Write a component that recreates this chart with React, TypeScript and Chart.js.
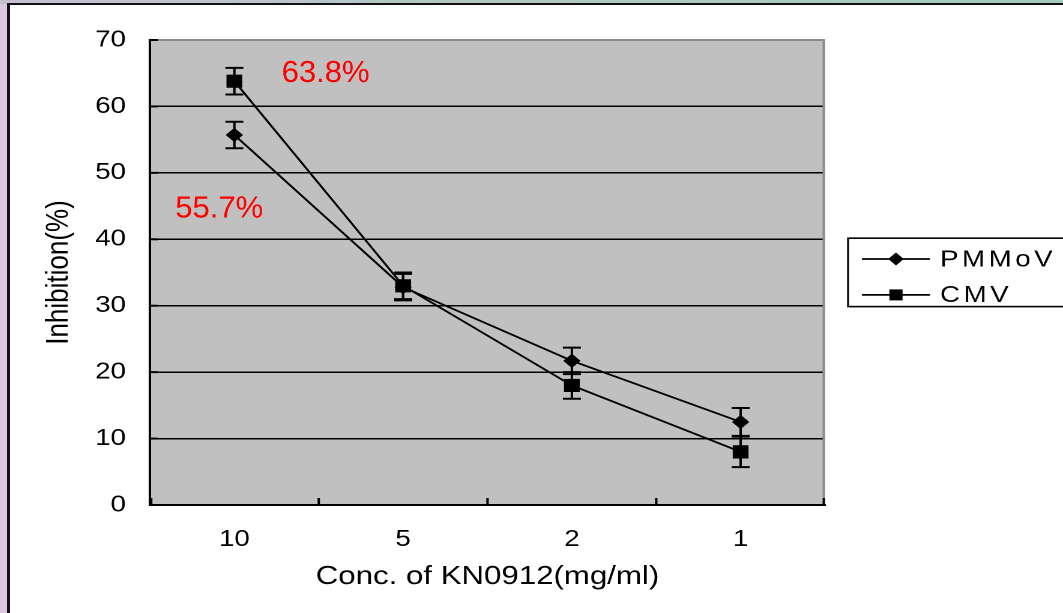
import React, { useEffect, useRef } from 'react';
import { Chart, registerables } from 'chart.js';

Chart.register(...registerables);

// ---------- data ----------
const categories = ['10', '5', '2', '1'];
const seriesLabels = ['PMMoV', 'CMV'];
const pmmovValues = [55.7, 32.8, 21.7, 12.5];
const pmmovErrors = [2.0, 2.0, 2.0, 2.1];
const cmvValues = [63.8, 33.0, 18.0, 8.0];
const cmvErrors = [2.0, 2.0, 2.0, 2.3];
const yMin = 0;
const yMax = 70;
const yStep = 10;
const noteTexts = ['63.8%', '55.7%'];
const noteCats = [0.28, -0.35];
const noteValues = [63.7, 43.3];
const xTitle = 'Conc. of KN0912(mg/ml)';
const yTitle = 'Inhibition(%)';

// ---------- layout ----------
const CSS_W = 1053;
const CSS_H = 608;
const W = 877; // logical width; canvas is stretched horizontally like the source picture
const H = 608;
const SX = CSS_W / W;
const PLOT_LEFT = 140 / SX;
const PLOT_RIGHT = 815 / SX;
const PLOT_TOP = 35;
const PLOT_BOTTOM = 500;
const FONT = '"Liberation Sans", Arial, Helvetica, sans-serif';

function drawDiamond(ctx: CanvasRenderingContext2D, x: number, y: number, r: number) {
  ctx.beginPath();
  ctx.moveTo(x - r, y);
  ctx.lineTo(x, y - r);
  ctx.lineTo(x + r, y);
  ctx.lineTo(x, y + r);
  ctx.closePath();
  ctx.fill();
}

const plotBg = {
  id: 'plotBg',
  beforeDraw(chart: any) {
    const { ctx, chartArea: a } = chart;
    ctx.save();
    ctx.fillStyle = '#c0c0c0';
    ctx.fillRect(a.left, a.top, a.right - a.left, a.bottom - a.top);
    ctx.restore();
  },
};

const frame = {
  id: 'frame',
  beforeDatasetsDraw(chart: any) {
    const { ctx, chartArea: a, scales } = chart;
    const xs = scales.x;
    const ys = scales.y;
    ctx.save();
    ctx.strokeStyle = '#8c8c8c';
    ctx.lineWidth = 2;
    ctx.beginPath();
    ctx.moveTo(a.right - 1, a.top);
    ctx.lineTo(a.right - 1, a.bottom);
    ctx.stroke();
    ctx.strokeStyle = '#000';
    ctx.lineWidth = 2;
    for (let i = 0; i <= categories.length; i++) {
      let px = xs.getPixelForValue(i - 0.5);
      px = Math.min(Math.max(px, a.left + 1), a.right - 1);
      ctx.beginPath();
      ctx.moveTo(px, a.bottom);
      ctx.lineTo(px, a.bottom - 7);
      ctx.stroke();
    }
    for (let v = yMin; v <= yMax; v += yStep) {
      const py = ys.getPixelForValue(v);
      ctx.beginPath();
      ctx.moveTo(a.left, py);
      ctx.lineTo(a.left + 6.7, py);
      ctx.stroke();
    }
    ctx.restore();
  },
};

const errorBars = {
  id: 'errorBars',
  afterDatasetsDraw(chart: any) {
    const { ctx, scales } = chart;
    const xs = scales.x;
    const ys = scales.y;
    const sets = [
      [pmmovValues, pmmovErrors],
      [cmvValues, cmvErrors],
    ];
    ctx.save();
    ctx.strokeStyle = '#000';
    sets.forEach(([vals, errs]) => {
      vals.forEach((v, i) => {
        const px = xs.getPixelForValue(i);
        const top = ys.getPixelForValue(v + errs[i]);
        const bot = ys.getPixelForValue(v - errs[i]);
        ctx.lineWidth = 2;
        ctx.beginPath();
        ctx.moveTo(px, top);
        ctx.lineTo(px, bot);
        ctx.stroke();
        ctx.beginPath();
        ctx.moveTo(px - 7.5, top);
        ctx.lineTo(px + 7.5, top);
        ctx.moveTo(px - 7.5, bot);
        ctx.lineTo(px + 7.5, bot);
        ctx.stroke();
      });
    });
    ctx.restore();
  },
};

const extras = {
  id: 'extras',
  afterDraw(chart: any) {
    const { ctx, chartArea: a, scales } = chart;
    const xs = scales.x;
    const ys = scales.y;
    // red annotations (not stretched)
    ctx.save();
    ctx.fillStyle = '#ff0000';
    ctx.font = `31px ${FONT}`;
    ctx.textAlign = 'left';
    ctx.textBaseline = 'alphabetic';
    noteTexts.forEach((t, i) => {
      const px = xs.getPixelForValue(noteCats[i]);
      const py = ys.getPixelForValue(noteValues[i]);
      ctx.save();
      ctx.translate(px, py);
      ctx.scale(1 / SX, 1);
      ctx.fillText(t, 0, 0);
      ctx.restore();
    });
    ctx.restore();

    // legend
    const mid = (a.top + a.bottom) / 2;
    const boxLeft = a.right + 19.2;
    const boxTop = mid - 34.3;
    const boxH = 68.4;
    ctx.save();
    ctx.strokeStyle = '#000';
    ctx.lineWidth = 1.6;
    ctx.strokeRect(boxLeft, boxTop, 260, boxH);
    const rows = [boxTop + 20.8, boxTop + 56.7];
    const lineX0 = boxLeft + 11.6;
    const lineX1 = boxLeft + 68.2;
    const markX = boxLeft + 39.9;
    const textX = boxLeft + 76.6;
    ctx.font = `23px ${FONT}`;
    (ctx as any).letterSpacing = '3px';
    ctx.textAlign = 'left';
    ctx.textBaseline = 'middle';
    ctx.fillStyle = '#000';
    seriesLabels.forEach((lab, i) => {
      const ry = rows[i];
      ctx.lineWidth = 1.8;
      ctx.beginPath();
      ctx.moveTo(lineX0, ry);
      ctx.lineTo(lineX1, ry);
      ctx.stroke();
      if (i === 0) {
        drawDiamond(ctx, markX, ry, 6.5);
      } else {
        ctx.fillRect(markX - 5.5, ry - 5.5, 11, 11);
      }
      ctx.fillText(lab, textX, ry + 1);
    });
    ctx.restore();
  },
};

export default function App() {
  const ref = useRef<HTMLCanvasElement | null>(null);

  useEffect(() => {
    const canvas = ref.current;
    if (!canvas) return;
    const chart = new Chart(canvas, {
      type: 'line',
      data: {
        labels: categories,
        datasets: [
          {
            label: seriesLabels[0],
            data: pmmovValues,
            borderColor: '#000',
            borderWidth: 1.8,
            backgroundColor: '#000',
            pointStyle: 'rectRot',
            pointRadius: 6.5,
            pointBackgroundColor: '#000',
            pointBorderColor: '#000',
            pointBorderWidth: 1,
            fill: false,
            tension: 0,
          },
          {
            label: seriesLabels[1],
            data: cmvValues,
            borderColor: '#000',
            borderWidth: 1.8,
            backgroundColor: '#000',
            pointStyle: 'rect',
            pointRadius: 8.6,
            pointBackgroundColor: '#000',
            pointBorderColor: '#000',
            pointBorderWidth: 1,
            fill: false,
            tension: 0,
          },
        ],
      },
      options: {
        responsive: false,
        devicePixelRatio: 2,
        animation: false,
        events: [],
        layout: {
          padding: { top: PLOT_TOP, right: W - PLOT_RIGHT, bottom: 0, left: 0 },
        },
        plugins: {
          legend: { display: false },
          tooltip: { enabled: false },
          title: { display: false },
        },
        scales: {
          x: {
            type: 'category',
            offset: true,
            grid: { display: true, drawOnChartArea: false, drawTicks: false, offset: true },
            border: { display: true, color: '#000', width: 2 },
            ticks: {
              color: '#000',
              font: { family: FONT, size: 23 },
              padding: 21,
              maxRotation: 0,
              autoSkip: false,
            },
            title: {
              display: true,
              text: xTitle,
              color: '#000',
              font: { family: FONT, size: 26 },
              padding: { top: 0, bottom: 20.4 },
            },
            afterFit: (s: any) => {
              s.height = H - PLOT_BOTTOM;
            },
          },
          y: {
            type: 'linear',
            min: yMin,
            max: yMax,
            ticks: {
              stepSize: yStep,
              color: '#000',
              font: { family: FONT, size: 23 },
              padding: 20,
            },
            grid: {
              drawTicks: false,
              color: (c: any) => (c.tick && c.tick.value === yMax ? '#8c8c8c' : '#000'),
              lineWidth: (c: any) => (c.tick && c.tick.value === yMax ? 2 : 1.5),
            },
            border: { display: true, color: '#000', width: 2 },
            title: {
              display: true,
              text: yTitle,
              color: '#000',
              font: { family: FONT, size: 26 },
              padding: { top: 25.2, bottom: 0 },
            },
            afterFit: (s: any) => {
              s.width = PLOT_LEFT;
            },
          },
        },
      },
      plugins: [plotBg, frame, errorBars, extras],
    } as any);
    return () => chart.destroy();
  }, []);

  return (
    <div style={{ position: 'fixed', inset: 0, background: '#d9c9df', overflow: 'hidden' }}>
      <div
        style={{
          position: 'absolute',
          top: 0,
          left: 0,
          right: 0,
          height: 4,
          background: 'linear-gradient(to right, #c6bfd2, #b4c8c4 40%, #a3cbb9)',
        }}
      />
      <div
        style={{
          position: 'absolute',
          left: 7,
          top: 3,
          right: 0,
          bottom: 0,
          background: '#fff',
          borderLeft: '3px solid #111',
          borderTop: '2px solid #111',
        }}
      >
        <canvas
          ref={ref}
          width={W}
          height={H}
          style={{ width: `${CSS_W}px`, height: `${CSS_H}px`, display: 'block' }}
        />
      </div>
    </div>
  );
}
